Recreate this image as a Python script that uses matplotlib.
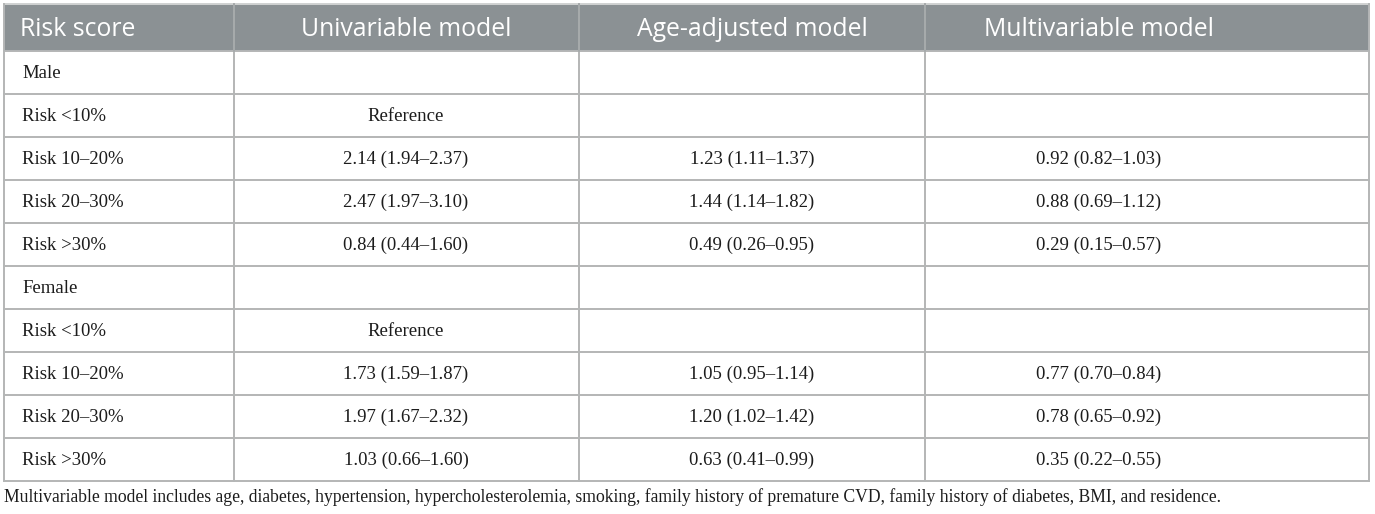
import matplotlib
matplotlib.use("Agg")
import matplotlib.pyplot as plt
from matplotlib.patches import Rectangle

# table content
headers = ["Risk score", "Univariable model", "Age-adjusted model", "Multivariable model"]
row_labels = ["Male", "Risk <10%", "Risk 10\u201320%", "Risk 20\u201330%", "Risk >30%",
              "Female", "Risk <10%", "Risk 10\u201320%", "Risk 20\u201330%", "Risk >30%"]
univariable = ["", "Reference", "2.14 (1.94\u20132.37)", "2.47 (1.97\u20133.10)", "0.84 (0.44\u20131.60)",
               "", "Reference", "1.73 (1.59\u20131.87)", "1.97 (1.67\u20132.32)", "1.03 (0.66\u20131.60)"]
age_adjusted = ["", "", "1.23 (1.11\u20131.37)", "1.44 (1.14\u20131.82)", "0.49 (0.26\u20130.95)",
                "", "", "1.05 (0.95\u20131.14)", "1.20 (1.02\u20131.42)", "0.63 (0.41\u20130.99)"]
multivariable = ["", "", "0.92 (0.82\u20131.03)", "0.88 (0.69\u20131.12)", "0.29 (0.15\u20130.57)",
                 "", "", "0.77 (0.70\u20130.84)", "0.78 (0.65\u20130.92)", "0.35 (0.22\u20130.55)"]
footnote = ("Multivariable model includes age, diabetes, hypertension, hypercholesterolemia, smoking, "
            "family history of premature CVD, family history of diabetes, BMI, and residence.")

# layout in pixel units
W, H = 1375, 514
col_edges = [4, 234, 579, 925, 1369]
text_x = [22, 406, 752, 1099]
top, head_bot, row_h = 4, 51, 43
grid = "#b4b6b6"
head_bg = "#8b9194"
ink = "#1c1c1c"
serif = ["Liberation Serif", "DejaVu Serif"]
sans = ["Open Sans", "DejaVu Sans"]

fig = plt.figure(figsize=(W / 100, H / 100), dpi=100)
ax = fig.add_axes([0, 0, 1, 1])
ax.set_xlim(0, W)
ax.set_ylim(H, 0)
ax.axis("off")

n = len(row_labels)
bottom = head_bot + n * row_h

# header band
ax.add_patch(Rectangle((col_edges[0], top), col_edges[-1] - col_edges[0], head_bot - top,
                       facecolor=head_bg, edgecolor="none"))
for i, h in enumerate(headers):
    ax.text(text_x[i] if i else 20, (top + head_bot) / 2 + 2, h, color="white",
            fontsize=17.8, family=sans, ha="left" if i == 0 else "center", va="center")

# grid lines
for k in range(n + 1):
    y = head_bot + k * row_h
    ax.plot([col_edges[0], col_edges[-1]], [y, y], color=grid, lw=1.4)
ax.plot([col_edges[0], col_edges[-1]], [top, top], color="#d0d2d2", lw=1.4)
for x in col_edges:
    ax.plot([x, x], [top, bottom], color=grid, lw=1.4)
for x in col_edges[1:-1]:
    ax.plot([x, x], [top, head_bot], color="#a4a8aa", lw=1.2)

# body
cols = [univariable, age_adjusted, multivariable]
for r in range(n):
    yc = head_bot + (r + 0.5) * row_h + 1
    ax.text(text_x[0], yc, row_labels[r], fontsize=13.5, family=serif,
            color=ink, ha="left", va="center")
    for c, vals in enumerate(cols):
        if vals[r]:
            ax.text(text_x[c + 1], yc, vals[r], fontsize=13.5, family=serif,
                    color=ink, ha="center", va="center")

ax.text(4, 497, footnote, fontsize=12.7, family=serif, color=ink,
        ha="left", va="center")

fig.savefig("out.png", dpi=100)
